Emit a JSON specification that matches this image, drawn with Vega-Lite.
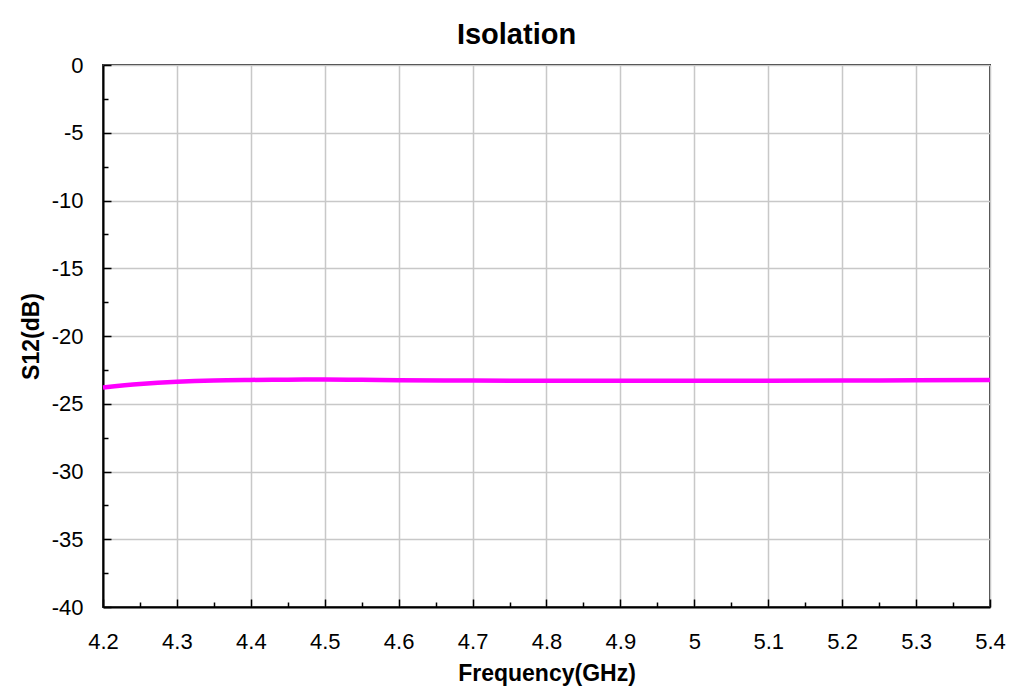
{
  "$schema": "https://vega.github.io/schema/vega-lite/v6.json",
  "width": 887,
  "height": 542,
  "autosize": {"type": "none"},
  "padding": {"left": 103, "top": 65, "right": 29, "bottom": 83},
  "background": "white",
  "config": {
    "font": "Liberation Sans",
    "view": {"stroke": "#333333", "strokeWidth": 2}
  },
  "title": {
    "text": "Isolation",
    "font": "Liberation Sans",
    "fontSize": 29,
    "fontWeight": "bold",
    "color": "black",
    "anchor": "middle",
    "offset": 4,
    "dx": -30
  },
  "data": {
    "values": [
      {"freq": 4.2, "s12": -23.8},
      {"freq": 4.25, "s12": -23.55},
      {"freq": 4.3, "s12": -23.38},
      {"freq": 4.35, "s12": -23.28},
      {"freq": 4.4, "s12": -23.24},
      {"freq": 4.45, "s12": -23.22},
      {"freq": 4.5, "s12": -23.21},
      {"freq": 4.55, "s12": -23.23},
      {"freq": 4.6, "s12": -23.26},
      {"freq": 4.7, "s12": -23.29},
      {"freq": 4.8, "s12": -23.3},
      {"freq": 4.9, "s12": -23.3},
      {"freq": 5.0, "s12": -23.3},
      {"freq": 5.1, "s12": -23.3},
      {"freq": 5.2, "s12": -23.29},
      {"freq": 5.3, "s12": -23.26},
      {"freq": 5.4, "s12": -23.25}
    ]
  },
  "mark": {"type": "line", "color": "#FF00FF", "strokeWidth": 4.5, "interpolate": "monotone"},
  "encoding": {
    "x": {
      "field": "freq",
      "type": "quantitative",
      "scale": {"domain": [4.2, 5.4], "nice": false, "zero": false},
      "axis": {
        "title": "Frequency(GHz)",
        "titleFont": "Liberation Sans",
        "titleFontSize": 23,
        "titleFontWeight": "bold",
        "titleColor": "black",
        "titlePadding": 7,
        "values": [4.2, 4.25, 4.3, 4.35, 4.4, 4.45, 4.5, 4.55, 4.6, 4.65, 4.7, 4.75, 4.8, 4.85, 4.9, 4.95, 5.0, 5.05, 5.1, 5.15, 5.2, 5.25, 5.3, 5.35, 5.4],
        "labelExpr": "abs(datum.value*10 - round(datum.value*10)) < 0.01 ? toString(round(datum.value*10)/10) : ''",
        "labelFont": "Liberation Sans",
        "labelFontSize": 22,
        "labelColor": "black",
        "labelPadding": 32,
        "labelFlush": false,
        "labelOverlap": false,
        "domainColor": "black",
        "domainWidth": 2,
        "tickColor": "black",
        "tickWidth": 1.5,
        "tickSize": {"condition": {"test": "abs(datum.value*10 - round(datum.value*10)) < 0.01", "value": -8}, "value": -5},
        "grid": true,
        "gridColor": "#c8c8c8",
        "gridWidth": 1.5,
        "gridOpacity": {"condition": {"test": "abs(datum.value*10 - round(datum.value*10)) < 0.01", "value": 1}, "value": 0}
      }
    },
    "y": {
      "field": "s12",
      "type": "quantitative",
      "scale": {"domain": [-40, 0], "nice": false, "zero": false},
      "axis": {
        "title": "S12(dB)",
        "titleFont": "Liberation Sans",
        "titleFontSize": 23,
        "titleFontWeight": "bold",
        "titleColor": "black",
        "titlePadding": 8,
        "values": [0, -2.5, -5, -7.5, -10, -12.5, -15, -17.5, -20, -22.5, -25, -27.5, -30, -32.5, -35, -37.5, -40],
        "labelExpr": "abs(datum.value/5 - round(datum.value/5)) < 0.01 ? toString(round(datum.value)) : ''",
        "labelFont": "Liberation Sans",
        "labelFontSize": 22,
        "labelColor": "black",
        "labelPadding": 28,
        "labelFlush": false,
        "labelOverlap": false,
        "domainColor": "black",
        "domainWidth": 2,
        "tickColor": "black",
        "tickWidth": 1.5,
        "tickSize": {"condition": {"test": "abs(datum.value/5 - round(datum.value/5)) < 0.01", "value": -8}, "value": -5},
        "grid": true,
        "gridColor": "#c8c8c8",
        "gridWidth": 1.5,
        "gridOpacity": {"condition": {"test": "abs(datum.value/5 - round(datum.value/5)) < 0.01", "value": 1}, "value": 0}
      }
    }
  }
}
